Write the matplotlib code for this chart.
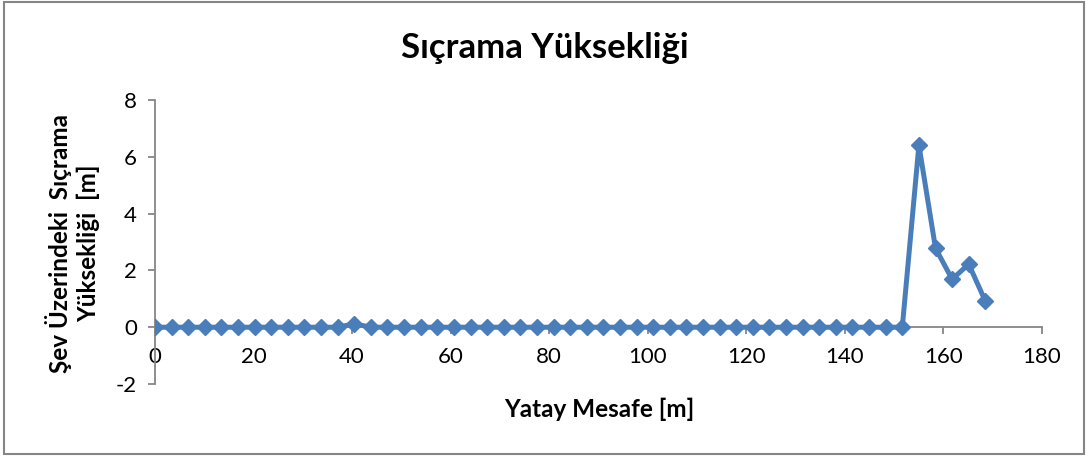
import numpy as np
import matplotlib.pyplot as plt
from matplotlib.patches import Rectangle

plt.rcParams['font.family'] = ['Lato', 'DejaVu Sans']
plt.rcParams['axes.unicode_minus'] = False

# horizontal distance along the slope [m]
mesafe = [0, 3.37, 6.74, 10.11, 13.48, 16.85, 20.22, 23.59, 26.96, 30.33,
          33.70, 37.07, 40.44, 43.81, 47.18, 50.55, 53.92, 57.29, 60.66, 64.03,
          67.40, 70.77, 74.14, 77.51, 80.88, 84.25, 87.62, 90.99, 94.36, 97.73,
          101.10, 104.47, 107.84, 111.21, 114.58, 117.95, 121.32, 124.69, 128.06, 131.43,
          134.80, 138.17, 141.54, 144.91, 148.28, 151.65, 155.02, 158.39, 161.76, 165.13,
          168.50]

# splash height on the slope [m]
sicrama = [0, 0, 0, 0, 0, 0, 0, 0, 0, 0,
           0, 0, 0.12, 0, 0, 0, 0, 0, 0, 0,
           0, 0, 0, 0, 0, 0, 0, 0, 0, 0,
           0, 0, 0, 0, 0, 0, 0, 0, 0, 0,
           0, 0, 0, 0, 0, 0, 6.41, 2.78, 1.69, 2.22,
           0.92]

x_ticks = [0, 20, 40, 60, 80, 100, 120, 140, 160, 180]
y_ticks = [-2, 0, 2, 4, 6, 8]

mavi = '#4a7ebb'
gri = '#868686'

fig = plt.figure(figsize=(10.87, 4.57), dpi=100)
ax = fig.add_axes([0.1426, 0.1597, 0.816, 0.6215])

ax.plot(mesafe, sicrama, color=mavi, lw=3.6, marker='D', ms=8.5,
        mfc=mavi, mec=mavi, mew=1, solid_joinstyle='round', zorder=3)

ax.set_xlim(0, 180)
ax.set_ylim(-2, 8)
ax.set_xticks(x_ticks)
ax.set_yticks(y_ticks)

# x axis crosses at y = 0
ax.spines['bottom'].set_position(('data', 0))
ax.spines['top'].set_visible(False)
ax.spines['right'].set_visible(False)
for s in ('bottom', 'left'):
    ax.spines[s].set_color(gri)
    ax.spines[s].set_linewidth(1.3)
ax.spines['bottom'].set_zorder(1)

ax.tick_params(axis='both', colors=gri, length=5, width=1.3, labelsize=16,
               labelcolor='black')
ax.tick_params(axis='x', pad=9)
ax.tick_params(axis='y', pad=8)

fig.text(0.5014, 0.895, 'Sıçrama Yüksekliği', ha='center', va='center',
         fontsize=25, fontweight='bold')
fig.text(0.551, 0.105, 'Yatay Mesafe [m]', ha='center', va='center',
         fontsize=17.5, fontweight='bold')
fig.text(0.067, 0.468, 'Şev Üzerindeki  Sıçrama\nYüksekliği  [m]', ha='center',
         va='center', rotation=90, fontsize=17.5, fontweight='bold',
         linespacing=1.25)

fig.patches.append(Rectangle((0.0035, 0.006), 0.9935, 0.99, transform=fig.transFigure,
                             fill=False, edgecolor=gri, lw=1.5))

fig.savefig('out.png', dpi=100)
